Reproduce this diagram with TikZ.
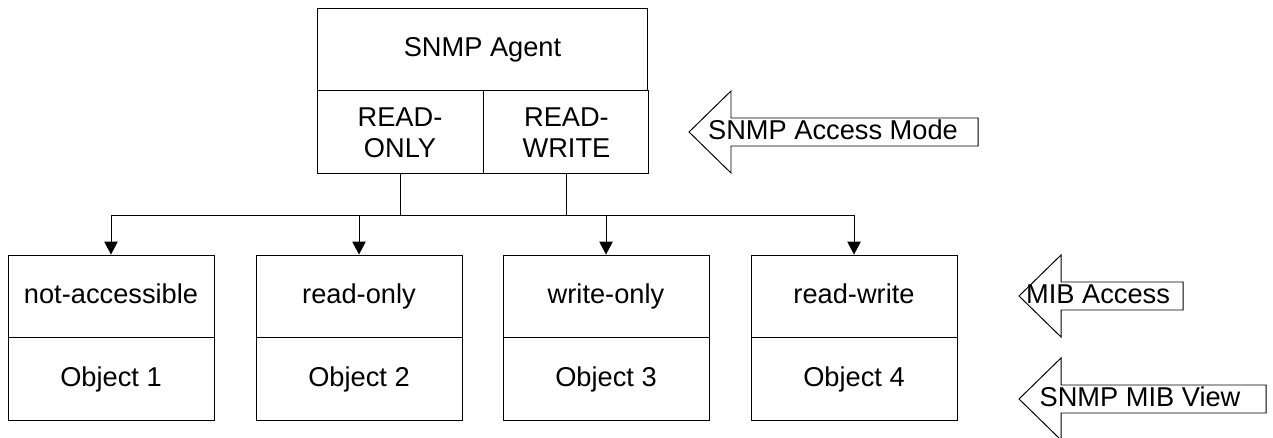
\documentclass[tikz,border=0pt]{standalone}
\usepackage{fontspec}
\setmainfont{Liberation Sans}
\usetikzlibrary{positioning,arrows.meta}
\tikzset{
  cell/.style={draw, line width=0.55pt, inner sep=0pt, align=center, font=\fontsize{15.5}{17.6}\selectfont},
  oneline/.style={text height=11pt, text depth=3pt},
  objcell/.style={cell, oneline, minimum width=4.12cm},
  label/.style={inner sep=0pt, oneline, font=\fontsize{15.5}{18}\selectfont}
}
% big hollow arrow: name, tip x, tip y, right end x, text x, text
\newcommand{\modearrow}[6]{%
  \draw[line width=0.55pt] (#2,#3) -- (#2+42,#3-41) -- (#2+42,#3-14) -- (#4,#3-14)
    -- (#4,#3+14) -- (#2+42,#3+14) -- (#2+42,#3+41) -- cycle;
  \node[label] (#1) at (#5,#3) {#6};
}
\begin{document}
\begin{tikzpicture}[x=0.02cm, y=-0.02cm, line join=miter, >={Triangle[length=0.26cm,width=0.27cm]}]
\useasboundingbox (0,0) rectangle (1273,438);
\node[cell, oneline, minimum width=6.62cm, minimum height=1.64cm] (agent) at (482.5,49) {SNMP Agent};
\node[cell, minimum width=3.32cm, minimum height=1.66cm, anchor=north west] (ro) at (agent.south west) {READ-\\ONLY};
\node[cell, minimum width=3.30cm, minimum height=1.66cm, right=0pt of ro] (rw) {READ-\\WRITE};
\foreach \i/\x/\acc in {1/111/not-accessible, 2/359/read-only, 3/606/write-only, 4/854/read-write}{
  \node[objcell, minimum height=1.64cm] (acc\i) at (\x,296) {\acc};
  \node[objcell, minimum height=1.66cm, below=0pt of acc\i] (obj\i) {Object \i};
}
\draw[line width=0.55pt] (ro.south) -- ++(0,41) coordinate (b1);
\draw[line width=0.55pt] (rw.south) -- ++(0,41) coordinate (b2);
\foreach \i in {1,2,3}
  \draw[->, line width=0.55pt] (b1) -| (acc\i.north);
\draw[->, line width=0.55pt] (b2) -| (acc4.north);
\modearrow{mode}{689}{132}{978}{833}{SNMP Access Mode}
\modearrow{mibacc}{1019}{296}{1183}{1098}{MIB Access}
\modearrow{mibview}{1019}{399}{1266}{1140}{SNMP MIB View}
\end{tikzpicture}
\end{document}
